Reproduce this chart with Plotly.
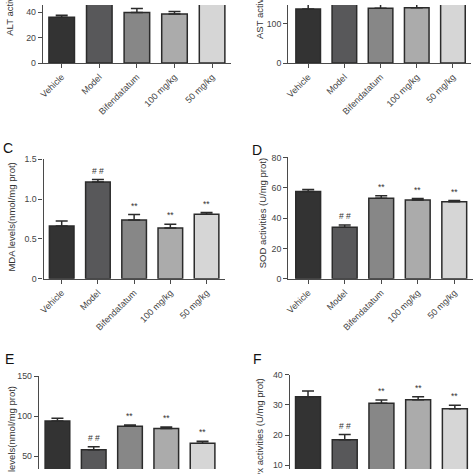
import plotly.graph_objects as go

W, H = 474, 474

groups = ["Vehicle", "Model", "Bifendatatum", "100 mg/kg", "50 mg/kg"]

alt_mean = [36.0, 72.0, 39.7, 38.5, 60.0]
alt_err = [1.5, 5.0, 3.1, 2.0, 4.0]
ast_mean = [137, 260, 139, 140, 185]
ast_err = [12, 15, 12, 10, 12]
mda_mean = [0.664, 1.217, 0.738, 0.639, 0.811]
mda_err = [0.061, 0.029, 0.069, 0.045, 0.021]
sod_mean = [57.6, 34.0, 53.1, 52.0, 50.8]
sod_err = [1.3, 1.5, 1.7, 0.9, 0.8]
gsh_mean = [93.9, 57.8, 87.3, 84.4, 66.0]
gsh_err = [3.6, 3.7, 1.6, 2.1, 2.4]
gpx_mean = [32.7, 18.5, 30.6, 31.7, 28.7]
gpx_err = [1.9, 1.7, 1.0, 1.0, 1.2]

sig_marks = ["", "# #", "**", "**", "**"]

mda_ticks = [0, 0.5, 1.0, 1.5]
mda_ticktext = ["0", "0.5", "1.0", "1.5"]

bar_colors = ["#333333", "#58585a", "#878787", "#ababab", "#d6d6d6"]
FONT = "Liberation Sans, Arial, sans-serif"
AX = "#4a4a4a"


def xd(a, b):
    return [a / W, b / W]


def yd(top, bottom):
    return [max(0.0, 1 - bottom / H), min(1.0, 1 - top / H)]


panels = [
    dict(mean=alt_mean, err=alt_err, sig=None, xdom=(38.3, 228.3), ydom=(0, 59.3),
         yrange=[0, 45.6], dtick=20, xr=[-0.5, 4.5], xlabels=True,
         title="ALT activities (U/L)", tx=5, ty=33, tanchor="bottom", letter=None),
    dict(mean=ast_mean, err=ast_err, sig=None, xdom=(286.3, 471.0), ydom=(0, 59.3),
         yrange=[0, 147.1], dtick=100, xr=[-0.55, 4.5], xlabels=True,
         title="AST activities (U/L)", tx=257, ty=37, tanchor="bottom", letter=None),
    dict(mean=mda_mean, err=mda_err, sig=sig_marks, xdom=(39.0, 222.0), ydom=(157.7, 279.7),
         yrange=[0, 1.5], dtick=None, xr=[-0.5, 4.5], xlabels=True,
         title="MDA levels(nmol/mg prot)", tx=6.7, ty=216.5, tanchor="middle",
         letter=("C", -4, 146)),
    dict(mean=sod_mean, err=sod_err, sig=sig_marks, xdom=(286.3, 472.5), ydom=(155.7, 279.7),
         yrange=[0, 80], dtick=20, xr=[-0.545, 4.5], xlabels=True,
         title="SOD activities (U/mg prot)", tx=260, ty=212.5, tanchor="middle",
         letter=("D", 248, 148)),
    dict(mean=gsh_mean, err=gsh_err, sig=sig_marks, xdom=(34.3, 218.0), ydom=(379.3, 474),
         yrange=[33.7, 150], dtick=50, xr=[-0.51, 4.5], xlabels=False,
         title="GSH levels(nmol/mg prot)", tx=6, ty=387, tanchor="top",
         letter=("E", -2.5, 362)),
    dict(mean=gpx_mean, err=gpx_err, sig=sig_marks, xdom=(287.7, 473.2), ydom=(377.7, 474),
         yrange=[8.8, 40], dtick=10, xr=[-0.5, 4.5], xlabels=False,
         title="GSH-Px activities (U/mg prot)", tx=257, ty=379, tanchor="top",
         letter=("F", 249, 362)),
]

fig = go.Figure()
annotations = []
layout = {}

for i, p in enumerate(panels, start=1):
    xa = "x" if i == 1 else f"x{i}"
    ya = "y" if i == 1 else f"y{i}"
    xkey = "xaxis" if i == 1 else f"xaxis{i}"
    ykey = "yaxis" if i == 1 else f"yaxis{i}"

    fig.add_trace(go.Bar(
        x=groups, y=p["mean"], xaxis=xa, yaxis=ya, width=0.68,
        marker=dict(color=bar_colors, line=dict(color="#2b2b2b", width=1.5)),
        error_y=dict(type="data", array=p["err"], arrayminus=[0] * 5, symmetric=False,
                     color="#2b2b2b", thickness=1.5, width=6),
        showlegend=False, hoverinfo="skip",
    ))

    layout[xkey] = dict(
        domain=xd(*p["xdom"]), anchor=ya, range=p["xr"], type="category",
        showline=p["xlabels"], linecolor=AX, linewidth=1.3,
        ticks="outside" if p["xlabels"] else "", ticklen=4, tickwidth=1.2, tickcolor=AX,
        showticklabels=p["xlabels"], tickangle=-45,
        tickfont=dict(family=FONT, size=9, color="#444444"),
        showgrid=False, zeroline=False, fixedrange=True,
    )
    yax = dict(
        domain=yd(*p["ydom"]), anchor=xa, range=p["yrange"],
        showline=True, linecolor=AX, linewidth=1.3,
        ticks="outside", ticklen=4, tickwidth=1.2, tickcolor=AX,
        tickfont=dict(family=FONT, size=8.8, color="#444444"),
        showgrid=False, zeroline=False, fixedrange=True,
    )
    if p["dtick"] is None:
        yax.update(tickmode="array", tickvals=mda_ticks, ticktext=mda_ticktext)
    else:
        yax.update(tick0=0, dtick=p["dtick"])
    layout[ykey] = yax

    annotations.append(dict(
        text=p["title"], xref="paper", yref="paper", x=p["tx"] / W, y=1 - p["ty"] / H,
        xanchor="center", yanchor=p["tanchor"], textangle=-90, showarrow=False,
        font=dict(family=FONT, size=9.5, color="#333333"),
    ))
    if p["letter"]:
        t, lx, ly = p["letter"]
        annotations.append(dict(
            text=t, xref="paper", yref="paper", x=lx / W, y=1 - ly / H,
            xanchor="left", yanchor="middle", showarrow=False,
            font=dict(family=FONT, size=14, color="#111111"),
        ))
    if p["sig"]:
        for g, m, e, s in zip(groups, p["mean"], p["err"], p["sig"]):
            if s:
                annotations.append(dict(
                    text=s, xref=xa, yref=ya, x=g, y=m + e, yanchor="middle",
                    yshift=9, showarrow=False,
                    font=dict(family=FONT, size=8.5, color="#333333"),
                ))

fig.update_layout(
    width=W, height=H, margin=dict(l=0, r=0, t=0, b=0),
    paper_bgcolor="white", plot_bgcolor="white",
    annotations=annotations, bargap=0.32,
    **layout,
)

fig.write_html(
    "out.html",
    config={"displayModeBar": False},
    post_script="document.body.style.margin='0';document.body.style.overflow='hidden';",
)
